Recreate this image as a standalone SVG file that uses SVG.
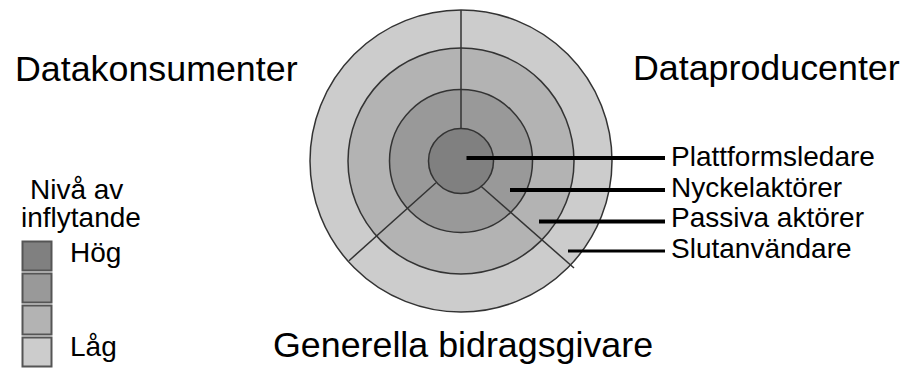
<svg xmlns="http://www.w3.org/2000/svg" width="902" height="372" viewBox="0 0 902 372">
<style>
text{font-family:"Liberation Sans",Arial,sans-serif;fill:#000}
.big{font-size:35.8px}
.sm{font-size:28px}
.ring{stroke:#333;stroke-width:1.5}
.div{stroke:#333;stroke-width:1.5;fill:none}
.lead{stroke:#000;stroke-width:4}
.box{stroke:#555;stroke-width:2}
</style>
<rect width="902" height="372" fill="#fff"/>
<g id="titles">
<text class="big" x="15" y="81">Datakonsumenter</text>
<text class="big" x="633" y="80">Dataproducenter</text>
<text class="big" x="273" y="357">Generella bidragsgivare</text>
</g>
<g id="circles">
<circle id="slutanvandare-ring" class="ring" cx="461" cy="161" r="151" fill="#cccccc"/>
<circle id="passiva-ring" class="ring" cx="461" cy="161" r="113" fill="#b3b3b3"/>
<circle id="nyckel-ring" class="ring" cx="461" cy="161" r="71.5" fill="#999999"/>
<circle id="plattform-core" class="ring" cx="461" cy="161" r="32.5" fill="#808080"/>
</g>
<g id="dividers">
<line class="div" x1="461" y1="10" x2="461" y2="128.5"/>
<line class="div" x1="436" y1="182.7" x2="349" y2="260.7"/>
<line class="div" x1="480.7" y1="186" x2="574" y2="268"/>
</g>
<g id="connectors">
<line class="lead" x1="466.5" y1="158" x2="665" y2="158"/>
<line class="lead" x1="510" y1="190" x2="665" y2="190"/>
<line class="lead" x1="539" y1="221.5" x2="665" y2="221.5"/>
<line class="lead" x1="568" y1="251" x2="665" y2="251" style="stroke-width:3"/>
</g>
<g id="labels">
<text class="sm" x="671" y="166">Plattformsledare</text>
<text class="sm" x="671" y="196.5">Nyckelaktörer</text>
<text class="sm" x="671" y="227">Passiva aktörer</text>
<text class="sm" x="671" y="257.5">Slutanvändare</text>
</g>
<g id="legend">
<text class="sm" x="30" y="199">Nivå av</text>
<text class="sm" x="21" y="227">inflytande</text>
<rect class="box" x="22.5" y="241.5" width="29" height="29" fill="#808080"/>
<rect class="box" x="22.5" y="273.5" width="29" height="29" fill="#999999"/>
<rect class="box" x="22.5" y="305.5" width="29" height="29" fill="#b3b3b3"/>
<rect class="box" x="22.5" y="337.5" width="29" height="29" fill="#cccccc"/>
<text class="sm" x="70" y="261.5">Hög</text>
<text class="sm" x="70" y="356">Låg</text>
</g>
</svg>
